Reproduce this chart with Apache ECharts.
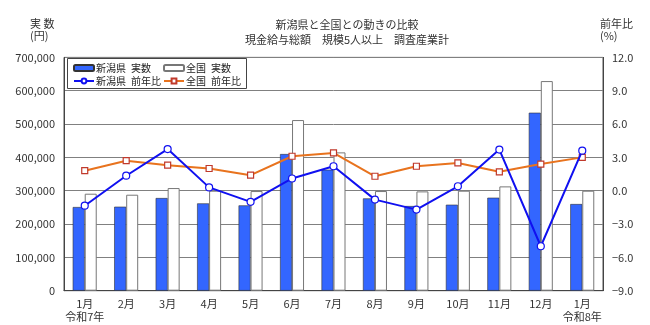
<!DOCTYPE html>
<html><head><meta charset="utf-8">
<script src="https://cdn.jsdelivr.net/npm/echarts@6/dist/echarts.min.js"></script>
<style>html,body{margin:0;padding:0;background:#fff}#c{width:650px;height:325px}</style>
</head><body><div id="c"></div>
<script>
const categories = ['1月\n令和7年','2月','3月','4月','5月','6月','7月','8月','9月','10月','11月','12月','1月\n令和8年'];
const niigataActual = [251000,252000,278000,262000,256000,410000,363000,277000,254000,258000,279000,534000,260000];
const nationalActual = [291000,288000,308000,300000,299000,512000,415000,299000,298000,300000,313000,629000,300000];
const niigataYoY = [-1.35,1.35,3.75,0.3,-1.0,1.1,2.2,-0.8,-1.7,0.4,3.7,-5.0,3.6];
const nationalYoY = [1.8,2.7,2.3,2.0,1.4,3.1,3.4,1.3,2.2,2.5,1.7,2.4,3.0];
const leftTicks = {min:0,max:700000,interval:100000};
const rightTicks = {min:-9,max:12,interval:3};

const FONT = '"Noto Sans CJK JP", "Noto Sans", sans-serif';
const txt = {fontFamily: FONT, fontSize: 11, color: '#333'};
const legTxt = {fontFamily: FONT, fontSize: 10, color: '#222', lineHeight: 12, padding:[0,0,0,-3]};
const chart = echarts.init(document.getElementById('c'));
chart.setOption({
  animation:false,
  textStyle:{fontFamily:FONT},
  title:{
    text:'新潟県と全国との動きの比較\n現金給与総額　規模5人以上　調査産業計',
    left:342, textAlign:'center', top:12,
    textStyle:{fontFamily:FONT,fontSize:11,fontWeight:'normal',color:'#333',lineHeight:15}
  },
  graphic:[
    {type:'text',left:30,top:18,z:5,style:{text:'実 数\n(円)',fontFamily:FONT,fontSize:11,fill:'#333',lineHeight:12,align:'center'}},
    {type:'text',left:600,top:18,z:5,style:{text:'前年比\n(%)',fontFamily:FONT,fontSize:11,fill:'#333',lineHeight:12,align:'center'}},
    {type:'rect',z:6,shape:{x:67.5,y:58.5,width:179,height:30},style:{fill:'#fff',stroke:'#444',lineWidth:1}}
  ],
  legend:[
    {left:73,top:62,orient:'vertical',itemGap:1,itemWidth:20,itemHeight:6,z:10,padding:0,
     textStyle:legTxt,data:['新潟県\u2002実数','新潟県\u2002前年比']},
    {left:163,top:62,orient:'vertical',itemGap:1,itemWidth:20,itemHeight:6,z:10,padding:0,
     textStyle:legTxt,data:['全国\u2002実数','全国\u2002前年比']}
  ],
  grid:{left:64,right:47,top:57.4,bottom:34.3,show:true,borderColor:'#555',borderWidth:1,containLabel:false},
  xAxis:{type:'category',data:categories,boundaryGap:true,
    axisLine:{lineStyle:{color:'#444'}},
    axisTick:{inside:true,length:4,lineStyle:{color:'#444'}},
    axisLabel:Object.assign({},txt,{lineHeight:13,margin:7,interval:0})},
  yAxis:[
    {type:'value',min:leftTicks.min,max:leftTicks.max,interval:leftTicks.interval,
     axisLine:{show:true,lineStyle:{color:'#444'}},axisTick:{show:false},
     splitLine:{lineStyle:{color:'#808080',width:1}},
     axisLabel:Object.assign({},txt,{margin:9,formatter:v=>v.toLocaleString('en-US')})},
    {type:'value',min:rightTicks.min,max:rightTicks.max,interval:rightTicks.interval,position:'right',
     axisLine:{show:true,lineStyle:{color:'#444'}},axisTick:{show:false},splitLine:{show:false},
     axisLabel:Object.assign({},txt,{margin:9,formatter:v=>(v<0?'−':'')+Math.abs(v).toFixed(1)})}
  ],
  series:[
    {name:'新潟県\u2002実数',type:'bar',data:niigataActual,barWidth:12,barGap:'0%',
     itemStyle:{color:'#3366FF',borderColor:'#333',borderWidth:0.6}},
    {name:'全国\u2002実数',type:'bar',data:nationalActual,barWidth:12,barGap:'0%',
     itemStyle:{color:'#fff',borderColor:'#777',borderWidth:1}},
    {name:'新潟県\u2002前年比',type:'line',yAxisIndex:1,data:niigataYoY,z:5,
     symbol:'circle',symbolSize:7,lineStyle:{color:'#1010F0',width:2},
     itemStyle:{color:'#fff',borderColor:'#1010F0',borderWidth:1.2}},
    {name:'全国\u2002前年比',type:'line',yAxisIndex:1,data:nationalYoY,z:4,
     symbol:'rect',symbolSize:6,lineStyle:{color:'#E8731E',width:2},
     itemStyle:{color:'#fff',borderColor:'#C0392B',borderWidth:1.2}}
  ]
});
</script></body></html>
